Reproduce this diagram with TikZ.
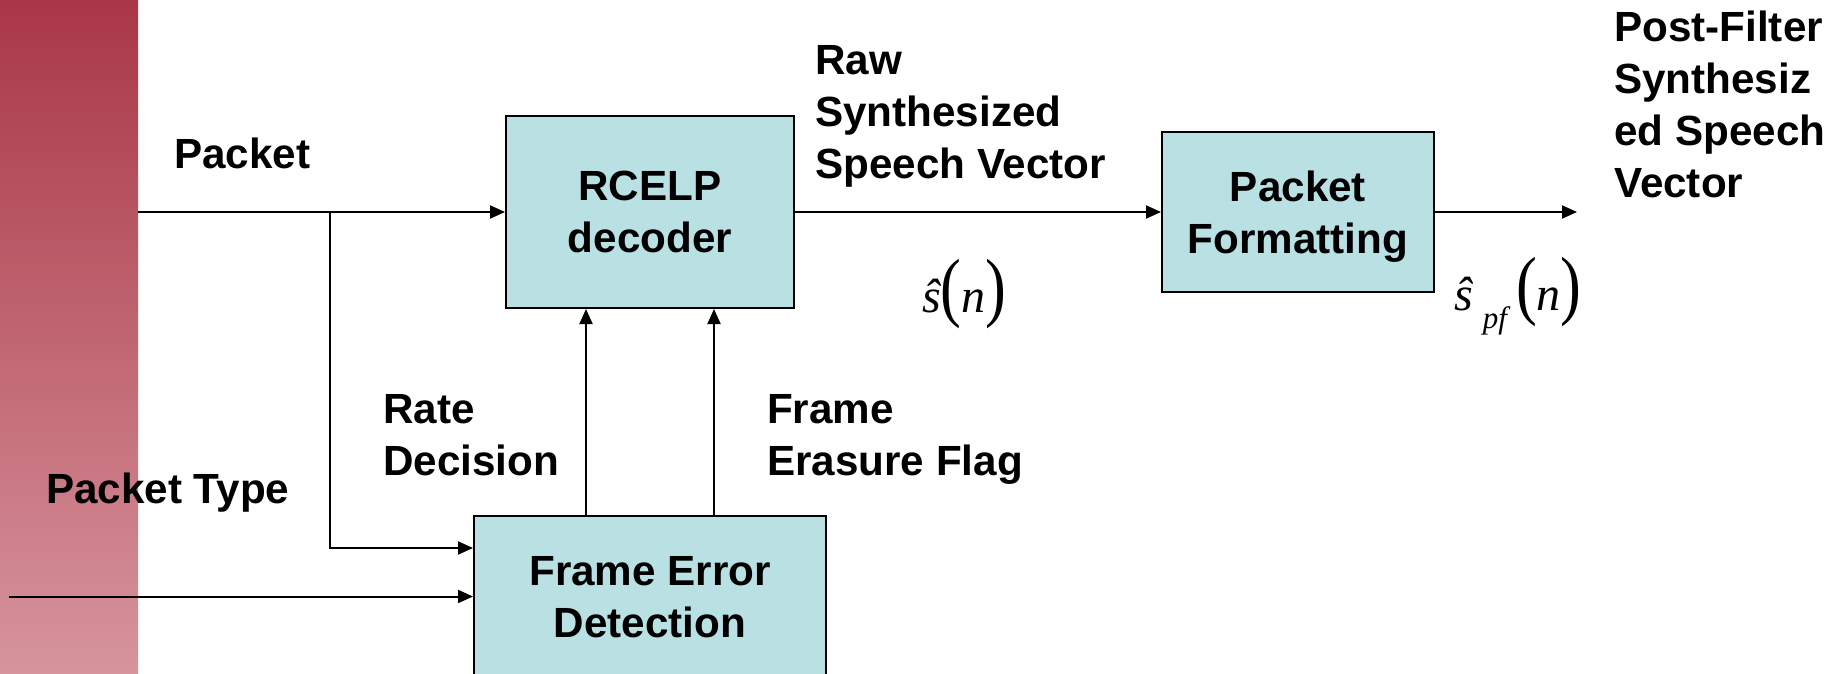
\documentclass[tikz,border=0pt]{standalone}
\usepackage{fontspec}
\usepackage{graphicx}
\setmainfont{Liberation Sans}
\newfontfamily\mathserif{Liberation Serif}
\usetikzlibrary{arrows.meta}

\definecolor{boxfill}{RGB}{185,224,227}
\definecolor{bartop}{RGB}{169,55,71}
\definecolor{barbot}{RGB}{215,148,157}

\newcommand{\bigparen}[1]{\scalebox{1.3}[1.6]{\upshape#1}}

\tikzset{
  labelfont/.style={font=\bfseries\fontsize{42.2}{52}\selectfont},
  lbl/.style={labelfont, align=left, inner sep=0pt, anchor=north west},
  block/.style={labelfont, draw, line width=2pt, fill=boxfill, align=center, inner sep=0pt, text depth=0pt},
  arr/.style={line width=2pt, -{Triangle[length=15pt,width=13pt]}},
  mathlbl/.style={anchor=base west, inner sep=0pt, font=\mathserif\fontsize{48}{52}\selectfont}
}

\begin{document}
\begin{tikzpicture}[x=1pt,y=-1pt]
\useasboundingbox (0,0) rectangle (1845,674);

% side band
\shade[top color=bartop, bottom color=barbot] (0,0) rectangle (138,674);

% blocks
\node[block, minimum width=288pt, minimum height=192pt] (rcelp) at (650,212) {RCELP\\decoder};
\node[block, minimum width=272pt, minimum height=160pt] (pf) at (1298,212) {Packet\\Formatting};
\node[block, minimum width=352pt, minimum height=161pt] (fed) at (650,596.5) {Frame Error\\Detection};

% free ends of the connectors
\coordinate (pktin) at (138,212);
\coordinate (branch) at (330,212);
\coordinate (typein) at (9,596.5);
\coordinate (out) at (1577,212);

% connectors
\draw[arr] (pktin) -- (rcelp.west);
\draw[arr] (branch) |- ([yshift=48.5pt]fed.west);
\draw[arr] (typein) -- (fed.west);
\draw[arr] ([xshift=-64pt]fed.north) -- ([xshift=-64pt]rcelp.south);
\draw[arr] ([xshift=64pt]fed.north) -- ([xshift=64pt]rcelp.south);
\draw[arr] (rcelp.east) -- (pf.west);
\draw[arr] (pf.east) -- (out);

% signal labels
\node[lbl] (lpacket) at (174,132) {\strut Packet};
\node[lbl] (lraw) at (815,38) {\strut Raw\\Synthesized\\Speech Vector};
\node[lbl] (lpost) at (1614,5) {\strut Post-Filter\\Synthesiz\\ed Speech\\Vector};
\node[lbl] (lrate) at (383,387) {\strut Rate\\Decision};
\node[lbl] (lflag) at (767,387) {\strut Frame\\Erasure Flag};
\node[lbl] (ltype) at (46,467) {\strut Packet Type};

% signal symbols
\node[mathlbl] (shat) at (922,312) {\itshape ŝ\bigparen{(}n\bigparen{)}};
\node[mathlbl] (spf) at (1454,310) {\itshape ŝ\kern10pt\raisebox{-18pt}{\fontsize{31}{34}\selectfont pf}\kern9pt\bigparen{(}n\bigparen{)}};
\end{tikzpicture}
\end{document}
